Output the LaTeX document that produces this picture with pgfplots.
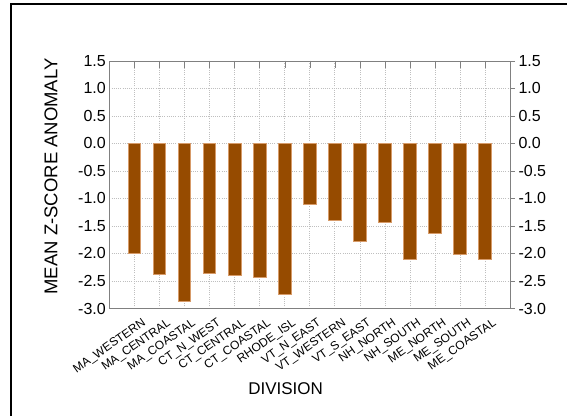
\documentclass[border=0pt]{standalone}
\usepackage{pgfplots}
\pgfplotsset{compat=1.18}
\usepackage{fontspec}
\setmainfont{Liberation Sans}

\definecolor{barbrown}{RGB}{150,75,0}
\definecolor{baredge}{RGB}{215,155,105}

\pgfplotsset{
  commonaxis/.style={
    at={(109.3pt,107.5pt)}, anchor=south west,
    scale only axis, width=400.7pt, height=247.8pt,
    xmin=0, xmax=16, ymin=-3, ymax=1.5,
    ytick={-3,-2.5,...,1.5},
    axis line style={black!50},
    tick style={black!50},
    /pgf/number format/assume math mode=true,
    /pgf/number format/fixed,
    /pgf/number format/fixed zerofill,
    /pgf/number format/precision=1,
    yticklabel style={font=\fontsize{16}{18}\selectfont},
  },
}

\begin{document}
\begin{tikzpicture}
  \path[use as bounding box] (0pt,0pt) rectangle (567pt,416pt);
  % outer frame (left and top edges)
  \draw[black,line width=2pt] (11pt,0pt) -- (11pt,412pt) -- (567pt,412pt);

  % main axis: bars, grid, top ticks, left and bottom labels
  \begin{axis}[
    commonaxis,
    ybar, bar width=0.5,
    xtick={1,...,15},
    xticklabels={MA\_WESTERN,MA\_CENTRAL,MA\_COASTAL,CT\_N\_WEST,CT\_CENTRAL,
      CT\_COASTAL,RHODE\_ISL,VT\_N\_EAST,VT\_WESTERN,VT\_S\_EAST,NH\_NORTH,
      NH\_SOUTH,ME\_NORTH,ME\_SOUTH,ME\_COASTAL},
    xtick pos=right, xticklabel pos=left,
    ytick pos=left, yticklabel pos=left,
    tick align=inside, major tick length=7pt,
    y tick style={draw=none},
    xticklabel style={font=\fontsize{12}{13}\selectfont,
      xshift=7pt, yshift=-9pt, rotate=35,
      anchor=north east, inner sep=0pt},
    grid=major,
    major grid style={dash pattern=on 1pt off 1.2pt, black!25},
    xlabel={DIVISION},
    ylabel={MEAN Z-SCORE ANOMALY},
    xlabel style={font=\fontsize{17}{20}\selectfont, at={(rel axis cs:0.44,-0.325)}, anchor=center},
    ylabel style={font=\fontsize{18.5}{20}\selectfont, at={(rel axis cs:-0.1455,0.533)}, anchor=center},
  ]
    \addplot[fill=barbrown, draw=baredge, line width=0.5pt] coordinates {
      (1,-2.00) (2,-2.38) (3,-2.87) (4,-2.36) (5,-2.39)
      (6,-2.44) (7,-2.74) (8,-1.11) (9,-1.40) (10,-1.78)
      (11,-1.43) (12,-2.11) (13,-1.63) (14,-2.01) (15,-2.11)
    };
  \end{axis}

  % right-hand scale
  \begin{axis}[
    commonaxis,
    xtick=\empty,
    ytick pos=right, yticklabel pos=right,
    tick align=outside, major tick length=5pt,
  ]
  \end{axis}
\end{tikzpicture}
\end{document}
